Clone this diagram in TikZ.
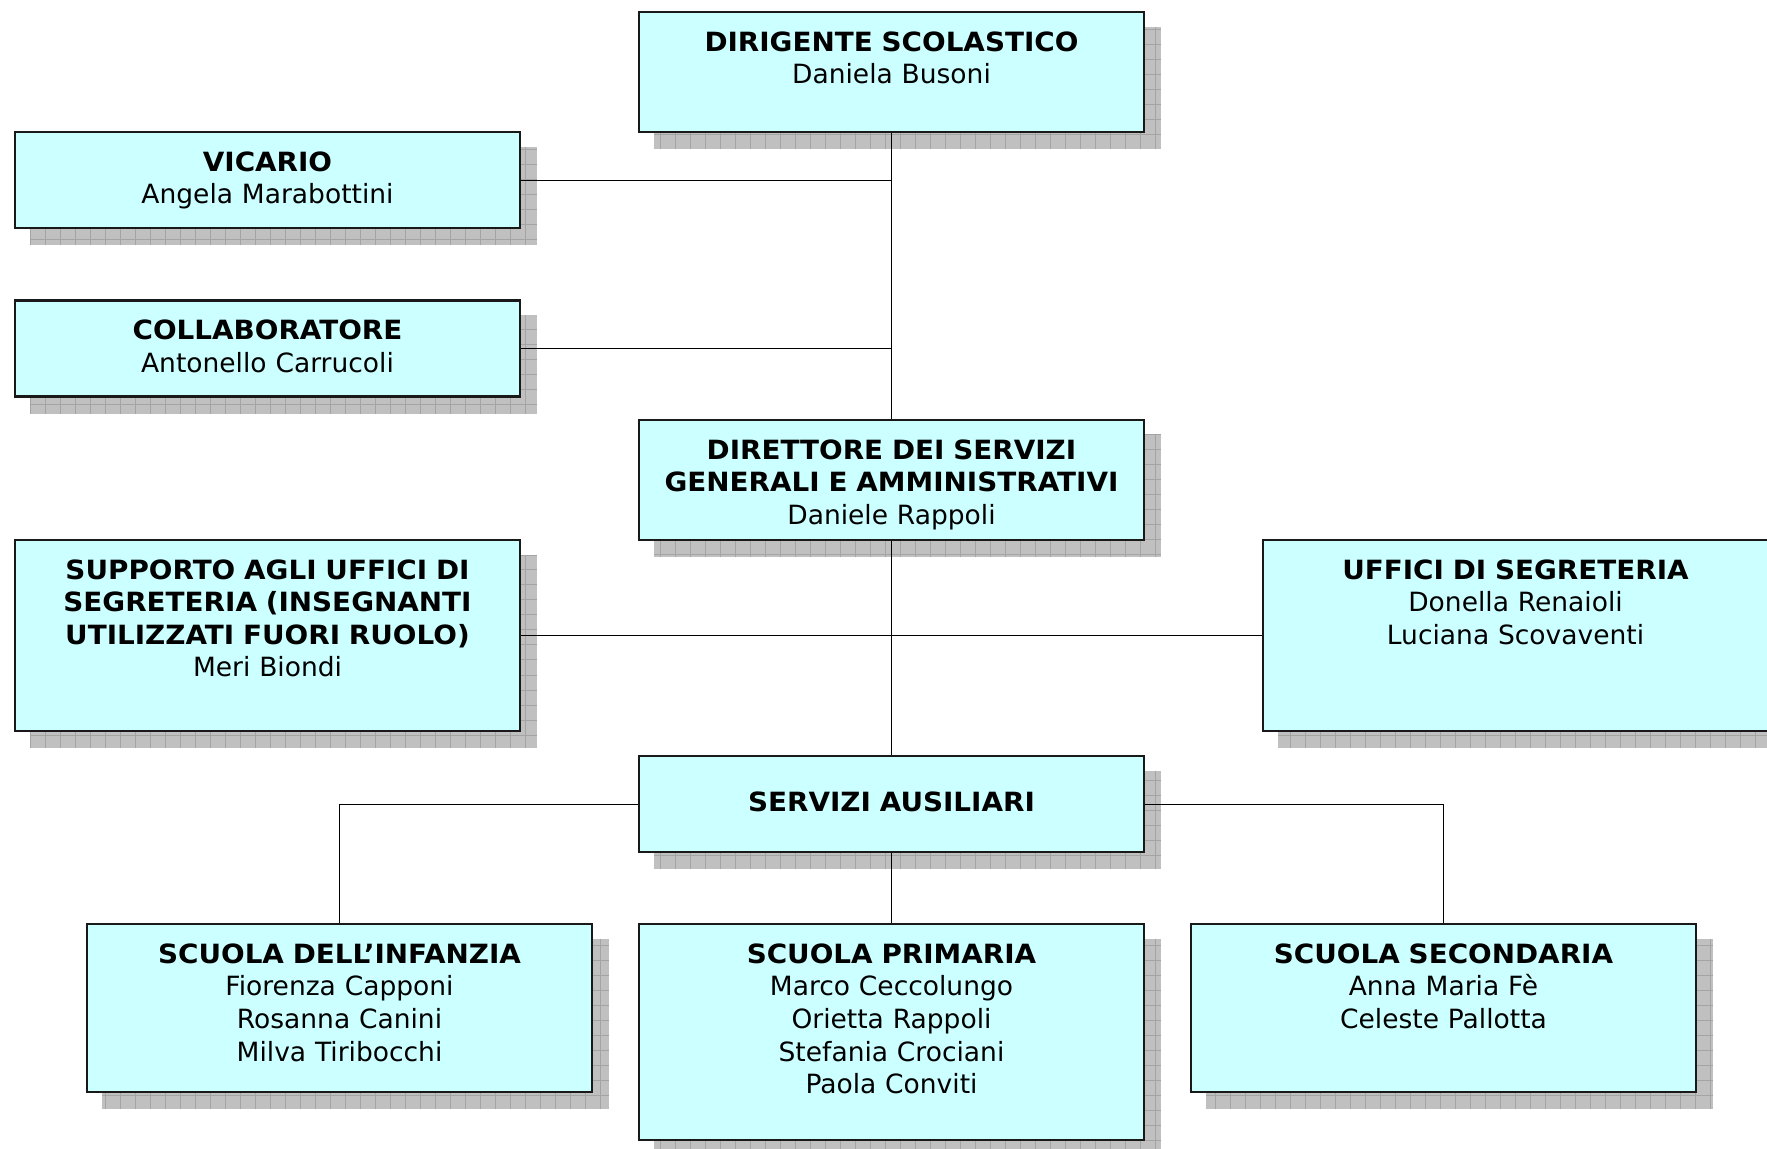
\documentclass[tikz,border=0pt]{standalone}
\usepackage{fontspec}
\setmainfont{DejaVu Sans}[BoldFeatures={FakeStretch=1.05}]
\usetikzlibrary{positioning}
\definecolor{boxcyan}{HTML}{CCFFFF}
\definecolor{shadowgrey}{HTML}{C0C0C0}
\definecolor{gridgrey}{HTML}{A4A4A4}
\pgfdeclarelayer{back}
\pgfsetlayers{back,main}

\begin{document}
\begin{tikzpicture}[x=0.5pt, y=-0.5pt, line width=1.2pt,
  box/.style={draw=black!90, fill=boxcyan, anchor=north, text width=248.5pt, align=center,
    inner xsep=2pt, inner ysep=0pt, text height=19.5pt, text depth=#1,
    font=\fontsize{13.25pt}{16.3pt}\selectfont}]
\useasboundingbox (0,0) rectangle (1767,1149);
\node (1)[box=40.5pt] at (891.5,11) {\textbf{DIRIGENTE SCOLASTICO}\\Daniela Busoni};
\node (2)[box=28.5pt] at (267.5,131) {\textbf{VICARIO}\\Angela Marabottini};
\node (3)[box=28.5pt] [below=35pt of 2] {\textbf{COLLABORATORE}\\Antonello Carrucoli};
\node (4)[box=40.5pt] [below=142.8pt of 1] {\textbf{DIRETTORE DEI SERVIZI}\\\textbf{GENERALI E AMMINISTRATIVI}\\Daniele Rappoli};
\node (5)[box=76pt] at (267.5,539) {\textbf{SUPPORTO AGLI UFFICI DI}\\\textbf{SEGRETERIA (INSEGNANTI}\\\textbf{UTILIZZATI FUORI RUOLO)}\\Meri Biondi};
\node (6)[box=76pt] at (1515.5,539) {\textbf{UFFICI DI SEGRETERIA}\\Donella Renaioli\\Luciana Scovaventi};
\node (7)[box=20.5pt, text height=27.5pt] [below=106.8pt of 4] {\textbf{SERVIZI AUSILIARI}};
\node (8)[box=64.5pt] at (339.5,923) {\textbf{SCUOLA DELL’INFANZIA}\\Fiorenza Capponi\\Rosanna Canini\\Milva Tiribocchi};
\node (9)[box=88.5pt] [below=34.8pt of 7] {\textbf{SCUOLA PRIMARIA}\\Marco Ceccolungo\\Orietta Rappoli\\Stefania Crociani\\Paola Conviti};
\node (10)[box=64.5pt] at (1443.5,923) {\textbf{SCUOLA SECONDARIA}\\Anna Maria Fè\\Celeste Pallotta};
% grey gridded shadows behind the boxes
\begin{pgfonlayer}{back}
\foreach \n in {1,...,10}{
  \begin{scope}
  \clip ([shift={(16,16)}]\n.north west) rectangle ([shift={(16,16)}]\n.south east);
  \fill[shadowgrey] ([shift={(16,16)}]\n.north west) rectangle ([shift={(16,16)}]\n.south east);
  \draw[gridgrey, line width=0.5pt, step=7.5pt] ([shift={(16,16)}]\n.north west) grid ([shift={(16,16)}]\n.south east);
  \end{scope}}
\end{pgfonlayer}
\path (1) edge (4)
      (4) edge (7)
      (7) edge (9)
      (5) edge (6);
\draw (2.east) -- (2.east -| 1.south);
\draw (3.east) -- (3.east -| 1.south);
\draw (7.west) -| (8.north);
\draw (7.east) -| (10.north);
\end{tikzpicture}
\end{document}
